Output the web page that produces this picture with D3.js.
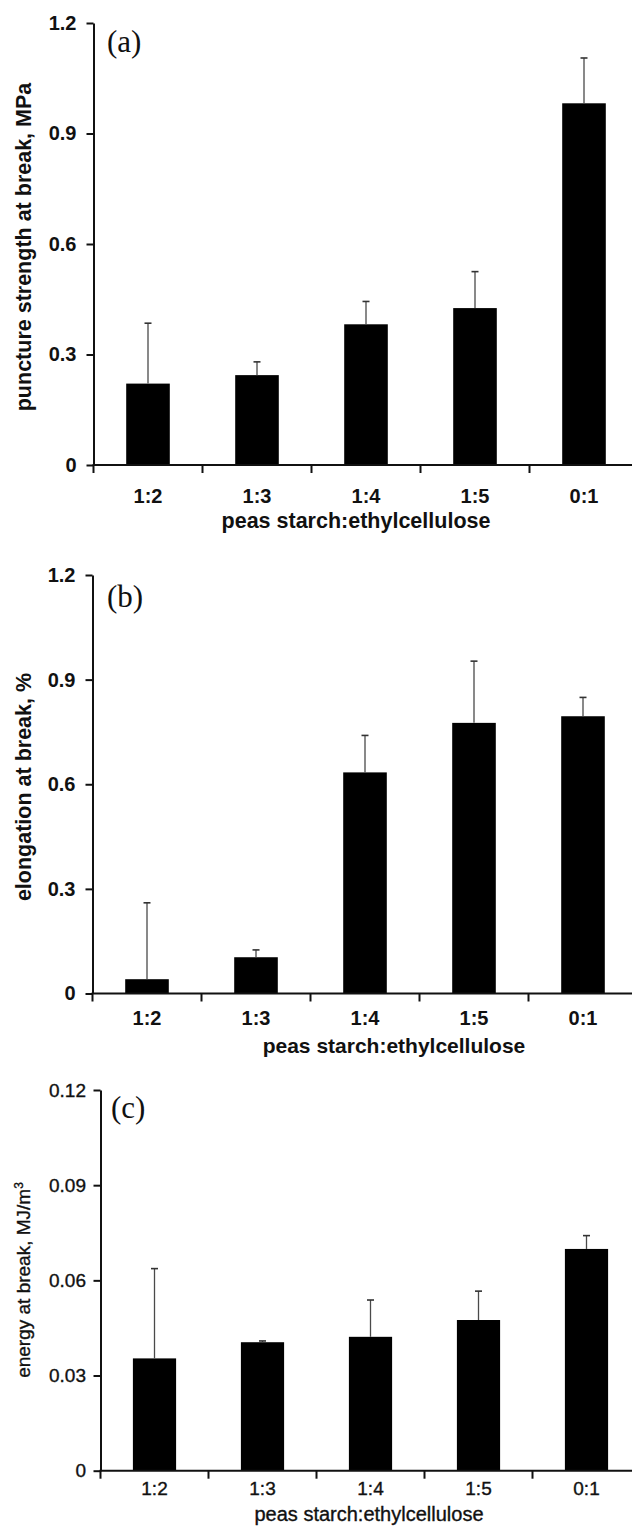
<!DOCTYPE html>
<html>
<head>
<meta charset="utf-8">
<script src="https://cdn.jsdelivr.net/npm/d3@7/dist/d3.min.js"></script>
<style>
  html, body { margin: 0; padding: 0; background: #fff; }
  svg { display: block; }
</style>
</head>
<body>
<svg id="chart" width="632" height="1528"></svg>
<script>
// Film blend ratios (peas starch : ethylcellulose)
const categories = ["1:2", "1:3", "1:4", "1:5", "0:1"];

// (a) puncture strength at break, MPa — mean and standard deviation
const punctureMean = [0.221, 0.244, 0.382, 0.426, 0.982];
const punctureSD   = [0.164, 0.036, 0.062, 0.099, 0.123];

// (b) elongation at break, % — mean and standard deviation
const elongationMean = [0.041, 0.104, 0.634, 0.776, 0.795];
const elongationSD   = [0.219, 0.021, 0.106, 0.177, 0.054];

// (c) energy at break, MJ/m3 — mean and standard deviation
const energyMean = [0.0354, 0.0405, 0.0422, 0.0475, 0.0699];
const energySD   = [0.0283, 0.0004, 0.0116, 0.0091, 0.0042];

// Tick values and their labels
const ticksAB = [0, 0.3, 0.6, 0.9, 1.2];
const tickLabelsAB = ["0", "0.3", "0.6", "0.9", "1.2"];
const ticksC = [0, 0.03, 0.06, 0.09, 0.12];
const tickLabelsC = ["0", "0.03", "0.06", "0.09", "0.12"];

const xTitle = "peas starch:ethylcellulose";

const SANS = "Arial, 'Liberation Sans', sans-serif";
const SERIF = "'Times New Roman', 'Liberation Serif', serif";
const INK = "#111";

const svg = d3.select("#chart");
svg.append("rect").attr("width", 632).attr("height", 1528).attr("fill", "#fff");

function styleText(sel, size, bold) {
  sel.style("font-family", SANS)
    .style("font-size", size + "px")
    .style("font-weight", bold ? "bold" : "normal")
    .style("fill", INK)
    .style("stroke", bold ? "none" : INK)
    .style("stroke-width", bold ? 0 : 0.35);
}

function drawPanel(cfg) {
  const g = svg.append("g");
  const x = d3.scaleBand()
    .domain(categories)
    .range([cfg.left, cfg.left + cfg.band * categories.length])
    .paddingInner(0.6).paddingOuter(0.3);
  const y = d3.scaleLinear().domain([0, cfg.ticks[cfg.ticks.length - 1]])
    .range([cfg.bottom, cfg.top]);
  const cx = i => x(categories[i]) + x.bandwidth() / 2;

  // bars
  g.selectAll("rect.bar").data(cfg.mean).join("rect")
    .attr("class", "bar")
    .attr("x", (d, i) => x(categories[i]))
    .attr("width", x.bandwidth())
    .attr("y", d => y(d))
    .attr("height", d => y(0) - y(d))
    .attr("fill", "#000");

  // upper error bars
  const eb = g.selectAll("g.err").data(cfg.mean).join("g").attr("class", "err");
  eb.append("line")
    .attr("x1", (d, i) => cx(i)).attr("x2", (d, i) => cx(i))
    .attr("y1", d => y(d))
    .attr("y2", (d, i) => y(d + cfg.sd[i]))
    .attr("stroke", "#4a4a4a").attr("stroke-width", 1.3);
  eb.append("line")
    .attr("x1", (d, i) => cx(i) - 3.5).attr("x2", (d, i) => cx(i) + 3.5)
    .attr("y1", (d, i) => y(d + cfg.sd[i]))
    .attr("y2", (d, i) => y(d + cfg.sd[i]))
    .attr("stroke", "#333").attr("stroke-width", 1.6);

  // y axis
  const yAxis = d3.axisLeft(y).tickValues(cfg.ticks)
    .tickFormat((d, i) => cfg.tickLabels[i])
    .tickSizeInner(7).tickSizeOuter(0).tickPadding(cfg.tickPad);
  const ya = g.append("g").attr("transform", `translate(${cfg.left},0)`).call(yAxis);
  ya.select(".domain").attr("stroke", INK).attr("stroke-width", 2);
  ya.selectAll(".tick line").attr("stroke", INK).attr("stroke-width", 2);
  styleText(ya.selectAll(".tick text"), cfg.tickSize, cfg.bold);

  // x axis with tick marks on category boundaries
  const xa = g.append("g").attr("transform", `translate(0,${cfg.bottom})`);
  xa.append("line")
    .attr("x1", cfg.left - 1).attr("x2", cfg.left + cfg.band * categories.length)
    .attr("stroke", INK).attr("stroke-width", 2);
  const boundaries = d3.range(categories.length + 1).map(i => cfg.left + i * cfg.band);
  xa.selectAll("line.tk").data(boundaries).join("line").attr("class", "tk")
    .attr("x1", d => d).attr("x2", d => d).attr("y1", 0).attr("y2", 8)
    .attr("stroke", INK).attr("stroke-width", 2);
  const cats = xa.selectAll("text.cat").data(categories).join("text").attr("class", "cat")
    .attr("x", d => x(d) + x.bandwidth() / 2)
    .attr("y", cfg.catY - cfg.bottom)
    .attr("text-anchor", "middle")
    .text(d => d);
  styleText(cats, cfg.tickSize, cfg.bold);

  // x title
  const xt = g.append("text")
    .attr("x", cfg.xTitleX).attr("y", cfg.xTitleY)
    .attr("text-anchor", "middle")
    .text(xTitle);
  styleText(xt, cfg.titleSize, cfg.bold);

  // y title
  const yt = g.append("text")
    .attr("transform", `translate(${cfg.yTitleX},${cfg.yTitleY}) rotate(-90)`)
    .attr("text-anchor", "middle");
  styleText(yt, cfg.yTitleSize, cfg.bold);
  yt.append("tspan").text(cfg.yTitle);
  if (cfg.yTitleSup) {
    yt.append("tspan").attr("dy", -7)
      .style("font-size", Math.round(cfg.yTitleSize * 0.65) + "px")
      .text(cfg.yTitleSup);
  }

  // panel letter
  g.append("text")
    .attr("x", cfg.letterX).attr("y", cfg.letterY)
    .style("font-family", SERIF)
    .style("font-size", "31px")
    .style("fill", INK)
    .text(cfg.letter);
}

drawPanel({
  letter: "(a)", letterX: 107, letterY: 52,
  left: 93.5, band: 109, top: 23, bottom: 465,
  ticks: ticksAB, tickLabels: tickLabelsAB, mean: punctureMean, sd: punctureSD,
  bold: true, tickSize: 20, tickPad: 10, titleSize: 21.5, yTitleSize: 21.5,
  catY: 503, xTitleX: 356, xTitleY: 528, yTitleX: 31, yTitleY: 247,
  yTitle: "puncture strength at break, MPa"
});

drawPanel({
  letter: "(b)", letterX: 107, letterY: 607,
  left: 92.5, band: 109, top: 575, bottom: 993.5,
  ticks: ticksAB, tickLabels: tickLabelsAB, mean: elongationMean, sd: elongationSD,
  bold: true, tickSize: 20, tickPad: 10, titleSize: 21, yTitleSize: 21.5,
  catY: 1025, xTitleX: 394, xTitleY: 1053, yTitleX: 31, yTitleY: 787,
  yTitle: "elongation at break, %"
});

drawPanel({
  letter: "(c)", letterX: 111, letterY: 1118,
  left: 100.5, band: 108, top: 1090, bottom: 1470.7,
  ticks: ticksC, tickLabels: tickLabelsC, mean: energyMean, sd: energySD,
  bold: false, tickSize: 19, tickPad: 7.5, titleSize: 20, yTitleSize: 19,
  catY: 1495, xTitleX: 369, xTitleY: 1521, yTitleX: 30, yTitleY: 1280,
  yTitle: "energy at break, MJ/m", yTitleSup: "3"
});
</script>
</body>
</html>
